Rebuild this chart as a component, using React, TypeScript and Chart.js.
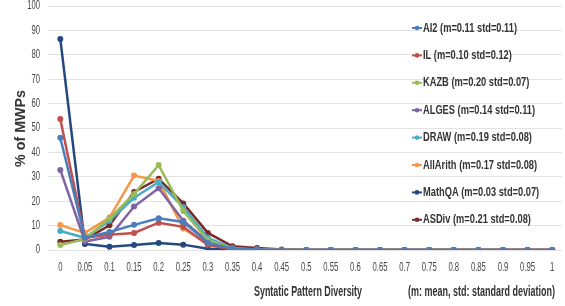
import React, { useEffect, useRef } from "react";
import { Chart, registerables } from "chart.js";

Chart.register(...registerables);

const xValues = [0, 0.05, 0.1, 0.15, 0.2, 0.25, 0.3, 0.35, 0.4, 0.45, 0.5, 0.55, 0.6, 0.65, 0.7, 0.75, 0.8, 0.85, 0.9, 0.95, 1];

const seriesNames = [
  "AI2 (m=0.11 std=0.11)",
  "IL (m=0.10 std=0.12)",
  "KAZB (m=0.20 std=0.07)",
  "ALGES (m=0.14 std=0.11)",
  "DRAW (m=0.19 std=0.08)",
  "AllArith (m=0.17 std=0.08)",
  "MathQA (m=0.03 std=0.07)",
  "ASDiv (m=0.21 std=0.08)",
];

const seriesColors = ["#4a7ebb", "#c0504d", "#9bbb59", "#8064a2", "#4bacc6", "#f79646", "#23497f", "#772c2a"];

const ai2 = [46, 5, 7.4, 10.3, 13, 11.5, 3, 0.5, 0.2, 0, 0, 0, 0, 0, 0, 0, 0, 0, 0, 0, 0];
const il = [53.7, 5, 6.3, 7, 11.2, 9.5, 2, 0.3, 0.1, 0, 0, 0, 0, 0, 0, 0, 0, 0, 0, 0, 0];
const kazb = [2, 4.5, 13, 23, 34.8, 16, 4, 0.5, 0.2, 0, 0, 0, 0, 0, 0, 0, 0, 0, 0, 0, 0];
const alges = [32.8, 3.5, 5.4, 17.8, 25.3, 12, 3.5, 0.5, 0.2, 0, 0, 0, 0, 0, 0, 0, 0, 0, 0, 0, 0];
const draw = [7.8, 5, 12, 21.4, 27.8, 17.5, 5, 0.8, 0.2, 0, 0, 0, 0, 0, 0, 0, 0, 0, 0, 0, 0];
const allArith = [10.2, 7, 13.3, 30.5, 28.3, 8.8, 2.5, 0.3, 0.1, 0, 0, 0, 0, 0, 0, 0, 0, 0, 0, 0, 0];
const mathQA = [86.5, 2.5, 1.3, 2, 2.9, 2.2, 0.5, 0.2, 0.1, 0, 0, 0, 0, 0, 0, 0, 0, 0, 0, 0, 0];
const asDiv = [3.4, 4.3, 10.1, 23.8, 29.2, 19.1, 7, 1.5, 0.8, 0.2, 0, 0, 0, 0, 0, 0, 0, 0, 0, 0, 0];

const seriesValues = [ai2, il, kazb, alges, draw, allArith, mathQA, asDiv];

const yTicks = [0, 10, 20, 30, 40, 50, 60, 70, 80, 90, 100];
const xTitle = "Syntatic Pattern Diversity";
const yTitle = "% of MWPs";
const noteText = "(m: mean, std: standard deviation)";

const FONT = '"Liberation Sans", Arial, sans-serif';
const SQUISH = 0.64;

function fmt(v: number) {
  return String(Number(Number(v).toFixed(2)));
}

function drawFitted(ctx: any, text: string, x: number, y: number, width: number, align: "left" | "center") {
  const w = ctx.measureText(text).width;
  const s = width / w;
  ctx.save();
  ctx.translate(x, y);
  ctx.scale(s, 1);
  ctx.textAlign = align;
  ctx.fillText(text, 0, 0);
  ctx.restore();
}

function drawSquished(ctx: any, text: string, x: number, y: number, align: "left" | "center" | "right") {
  ctx.save();
  ctx.translate(x, y);
  ctx.scale(SQUISH, 1);
  ctx.textAlign = align;
  ctx.fillText(text, 0, 0);
  ctx.restore();
}

const overlayPlugin = {
  id: "overlay",
  afterDraw(chart: any) {
    const ctx = chart.ctx;
    const xs = chart.scales.x;
    const ys = chart.scales.y;
    ctx.save();
    ctx.textBaseline = "middle";
    // tick labels (positioned by the chart's scales)
    ctx.fillStyle = "#454545";
    ctx.font = `12px ${FONT}`;
    xs.ticks.forEach((t: any) => {
      drawSquished(ctx, fmt(t.value), xs.getPixelForValue(t.value), 268, "center");
    });
    ys.ticks.forEach((t: any) => {
      drawSquished(ctx, fmt(t.value), 40, ys.getPixelForValue(t.value), "right");
    });
    // legend
    const x0 = 412;
    const y0 = 28;
    const step = 27.4;
    ctx.font = `bold 13px ${FONT}`;
    const s = 94 / ctx.measureText(seriesNames[0]).width;
    seriesNames.forEach((name, i) => {
      const y = y0 + i * step;
      const c = seriesColors[i];
      ctx.strokeStyle = c;
      ctx.lineWidth = 2;
      ctx.beginPath();
      ctx.moveTo(x0, y);
      ctx.lineTo(x0 + 10, y);
      ctx.stroke();
      ctx.fillStyle = c;
      ctx.beginPath();
      ctx.arc(x0 + 5, y, 2.3, 0, Math.PI * 2);
      ctx.fill();
      ctx.fillStyle = "#333333";
      ctx.save();
      ctx.translate(x0 + 11, y);
      ctx.scale(s, 1);
      ctx.textAlign = "left";
      ctx.fillText(name, 0, 0);
      ctx.restore();
    });
    // titles and note
    ctx.fillStyle = "#333333";
    ctx.font = `bold 14px ${FONT}`;
    drawFitted(ctx, noteText, 408, 292, 147, "left");
    drawFitted(ctx, xTitle, 308, 292, 108, "center");
    ctx.save();
    ctx.translate(21, 128.5);
    ctx.rotate(-Math.PI / 2);
    ctx.font = `bold 14px ${FONT}`;
    drawFitted(ctx, yTitle, 0, 0, 77, "center");
    ctx.restore();
    ctx.restore();
  },
};

export default function App() {
  const ref = useRef<HTMLCanvasElement>(null);
  useEffect(() => {
    document.body.style.margin = "0";
    const canvas = ref.current!;
    const chart = new Chart(canvas, {
      type: "line",
      data: {
        datasets: seriesNames.map((name, i) => ({
          label: name,
          data: xValues.map((x, j) => ({ x, y: seriesValues[i][j] })),
          borderColor: seriesColors[i],
          backgroundColor: seriesColors[i],
          borderWidth: 2.5,
          pointRadius: 3,
          pointHoverRadius: 3,
          pointBorderWidth: 0,
          tension: 0,
        })),
      },
      options: {
        animation: false,
        responsive: false,
        maintainAspectRatio: false,
        layout: { padding: { top: 6, right: 0, bottom: 0, left: 0 } },
        plugins: { legend: { display: false }, tooltip: { enabled: false } },
        scales: {
          x: {
            type: "linear",
            min: -0.025,
            max: 1.02,
            afterBuildTicks: (axis: any) => {
              axis.ticks = xValues.map((v) => ({ value: v }));
            },
            afterFit: (axis: any) => {
              axis.height = 56;
            },
            grid: { display: false, drawTicks: false },
            border: { display: false },
            ticks: { display: false },
          },
          y: {
            min: 0,
            max: 100,
            afterBuildTicks: (axis: any) => {
              axis.ticks = yTicks.map((v) => ({ value: v }));
            },
            afterFit: (axis: any) => {
              axis.width = 48;
            },
            grid: { color: "#e3e3e3", lineWidth: 1, drawTicks: false },
            border: { display: false },
            ticks: { display: false },
          },
        },
      },
      plugins: [overlayPlugin],
    } as any);
    return () => chart.destroy();
  }, []);
  return <canvas ref={ref} width={565} height={306} style={{ display: "block" }} />;
}
